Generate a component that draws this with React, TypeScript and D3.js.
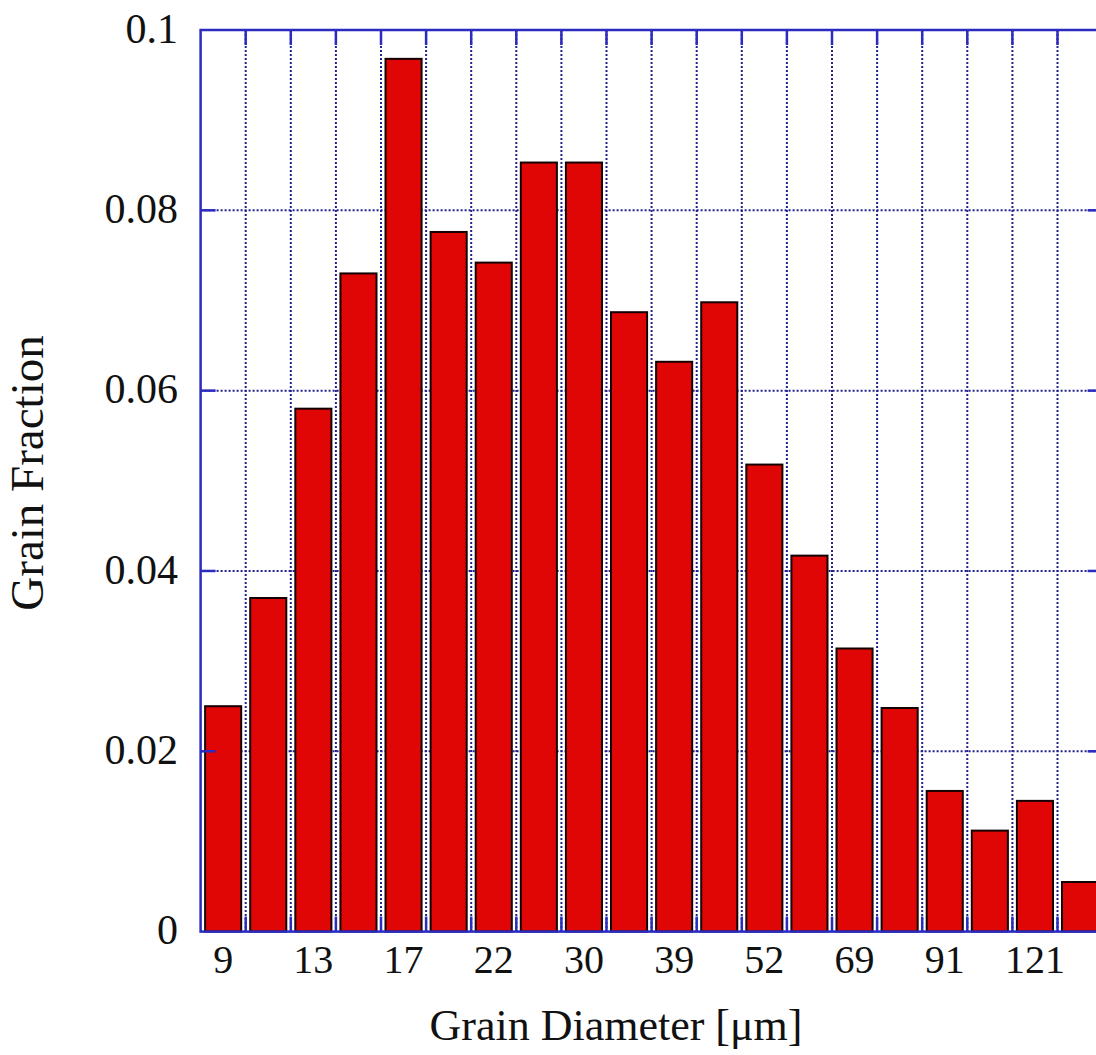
import React, { useEffect, useRef } from 'react';
import * as d3 from 'd3';

// bins along the x axis (only every other one carries a label)
const binLabels = ['9', '', '13', '', '17', '', '22', '', '30', '', '39', '', '52', '', '69', '', '91', '', '121', ''];
const fractions = [0.025, 0.037, 0.058, 0.073, 0.0968, 0.0776, 0.0742, 0.0853, 0.0853, 0.0687,
  0.0632, 0.0698, 0.0518, 0.0417, 0.0314, 0.0248, 0.0156, 0.0112, 0.0145, 0.0055];
const yTicks = [0, 0.02, 0.04, 0.06, 0.08, 0.1];
const yTickLabels = ['0', '0.02', '0.04', '0.06', '0.08', '0.1'];

export default function App() {
  const ref = useRef<SVGSVGElement | null>(null);

  useEffect(() => {
    const width = 1096, height = 1055;
    const left = 200.6, right = 1102.6, top = 30, bottom = 931.6;
    const font = '"Liberation Serif", "Times New Roman", serif';
    const axisBlue = '#2b2bbf';
    const gridBlue = '#22228f';

    const svg = d3.select(ref.current);
    svg.selectAll('*').remove();
    svg.attr('width', width).attr('height', height);

    const idx = binLabels.map((_, i) => i);
    const x = d3.scaleBand<number>().domain(idx).range([left, right]).paddingInner(0.2).paddingOuter(0.1);
    const y = d3.scaleLinear().domain([0, 0.1]).range([bottom, top]);
    const step = x.step();
    const edge = (i: number) => left + step * i; // boundary between bins

    svg.append('rect').attr('width', width).attr('height', height).attr('fill', '#fff');

    // grid
    const grid = svg.append('g').attr('stroke', gridBlue).attr('stroke-width', 2).attr('stroke-dasharray', '2,2');
    grid.selectAll('.vg').data(d3.range(1, binLabels.length)).enter().append('line')
      .attr('x1', d => edge(d)).attr('x2', d => edge(d)).attr('y1', top).attr('y2', bottom);
    grid.selectAll('.hg').data(yTicks.slice(1, -1)).enter().append('line')
      .attr('x1', left).attr('x2', right).attr('y1', d => y(d)).attr('y2', d => y(d));

    // bars
    svg.selectAll('.bar').data(fractions).enter().append('rect')
      .attr('x', (_, i) => x(i)!)
      .attr('y', d => y(d))
      .attr('width', x.bandwidth())
      .attr('height', d => bottom - y(d))
      .attr('fill', '#e00606')
      .attr('stroke', '#140000')
      .attr('stroke-width', 2);

    // tick marks
    const ticks = svg.append('g').attr('stroke', axisBlue).attr('stroke-width', 2.5);
    d3.range(1, binLabels.length).forEach(i => {
      ticks.append('line').attr('x1', edge(i)).attr('x2', edge(i)).attr('y1', top).attr('y2', top + 15);
      ticks.append('line').attr('x1', edge(i)).attr('x2', edge(i)).attr('y1', bottom).attr('y2', bottom - 15);
    });
    yTicks.slice(1, -1).forEach(t => {
      ticks.append('line').attr('x1', left).attr('x2', left + 15).attr('y1', y(t)).attr('y2', y(t));
      ticks.append('line').attr('x1', right).attr('x2', right - 15).attr('y1', y(t)).attr('y2', y(t));
    });

    // frame
    svg.append('rect').attr('x', left).attr('y', top).attr('width', right - left).attr('height', bottom - top)
      .attr('fill', 'none').attr('stroke', axisBlue).attr('stroke-width', 2.5);

    // tick labels
    svg.selectAll('.xl').data(binLabels).enter().append('text')
      .attr('x', (_, i) => x(i)! + x.bandwidth() / 2)
      .attr('y', 973)
      .attr('text-anchor', 'middle')
      .attr('font-family', font).attr('font-size', 40).attr('fill', '#111')
      .text(d => d);

    svg.selectAll('.yl').data(yTicks).enter().append('text')
      .attr('x', 178)
      .attr('y', d => y(d))
      .attr('dy', '0.3em')
      .attr('text-anchor', 'end')
      .attr('font-family', font).attr('font-size', 42).attr('fill', '#111')
      .text((_, i) => yTickLabels[i]);

    // axis titles
    svg.append('text').attr('x', 616).attr('y', 1040).attr('text-anchor', 'middle')
      .attr('font-family', font).attr('font-size', 44).attr('fill', '#111')
      .text('Grain Diameter [μm]');
    svg.append('text').attr('transform', 'translate(43,473) rotate(-90)').attr('text-anchor', 'middle')
      .attr('font-family', font).attr('font-size', 47).attr('fill', '#111')
      .text('Grain Fraction');
  }, []);

  return <svg ref={ref} style={{ position: 'absolute', left: 0, top: 0, display: 'block' }} />;
}
